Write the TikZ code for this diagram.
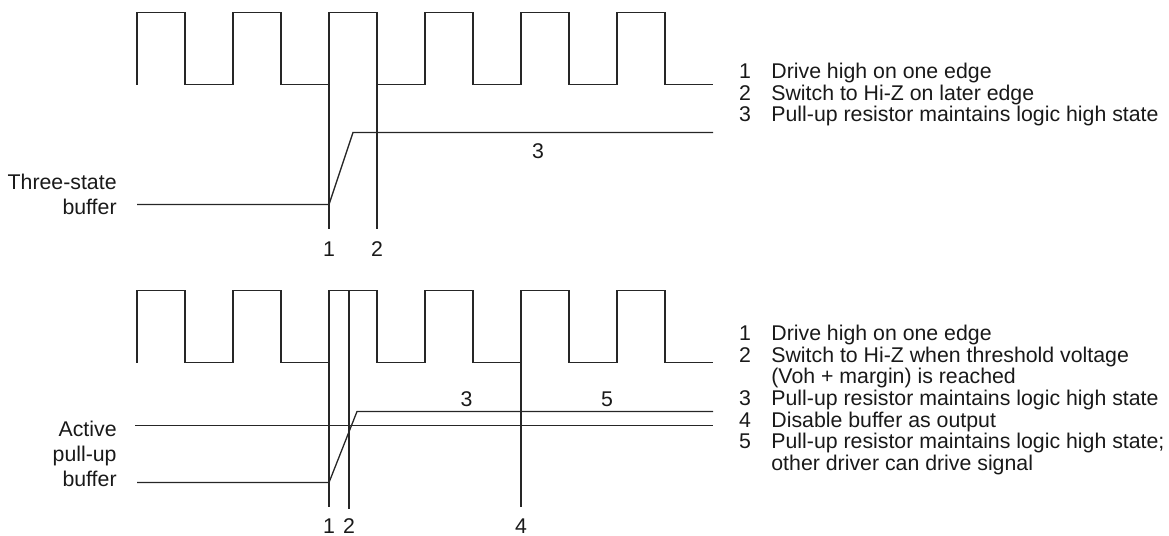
\documentclass[tikz,border=0pt]{standalone}
\usepackage{fontspec}
\setmainfont{Liberation Sans}
\usepackage{xcolor}
\usepackage{tikz}
\usetikzlibrary{positioning}
\tikzset{
  wave/.style={line width=0.65pt,draw=black!85},
  lbl/.style={inner sep=0pt,text=black!90,font=\fontsize{10.65}{11}\selectfont},
  num/.style={lbl,anchor=base},
  leftlbl/.style={lbl,anchor=base east},
  legtxt/.style={lbl,anchor=base west}
}
\begin{document}
\begin{tikzpicture}[x=0.5pt,y=-0.5pt]
\useasboundingbox (0,0) rectangle (1169,536);
% three-state buffer
\draw[wave](137,84.5)\foreach \i in {1,...,6}{--++(0,-72)--++(48,0)--++(0,72)--++(48,0)};
\draw[wave](137,204.5)--(329,204.5)--(353,132.5)--(713,132.5);
\draw[wave](329,12.5)--(329,228.5);
\draw[wave](377,12.5)--(377,228.5);
\node[num](ta) at (329,256.5){1};
\node[num](tb) at (377,256.5){2};
\node[num](tc) at (538,158.5){3};
\node[leftlbl](tl1) at (117,189){Three-state};
\node[leftlbl](tl2) at (117,214){buffer};
\foreach \d/\t [count=\k from 0] in {1/Drive high on one edge,2/Switch to Hi-Z on later edge,3/Pull-up resistor maintains logic high state}{
  \node[num](tn\k) at (745,78.5+21.5*\k){\d};
  \node[legtxt](tt\k) at (771,78.5+21.5*\k){\t};
}
% active pull-up buffer
\draw[wave](137,362.7)\foreach \i in {1,...,6}{--++(0,-72)--++(48,0)--++(0,72)--++(48,0)};
\draw[wave](135,425.7)--(713,425.7);
\draw[wave](137,482.5)--(329,482.5)--(357,411.5)--(713,411.5);
\draw[wave](329,290.7)--(329,506.7);
\draw[wave](349,290.7)--(349,509);
\draw[wave](521,290.7)--(521,506.7);
\node[num](ba) at (329,533){1};
\node[num](bb) at (349,533){2};
\node[num](bd) at (521,533){4};
\node[num](bc) at (466.5,406.5){3};
\node[num](be) at (607,406.5){5};
\node[leftlbl](bl1) at (117,436.6){Active};
\node[leftlbl](bl2) at (117,461.6){pull-up};
\node[leftlbl](bl3) at (117,486.6){buffer};
\foreach \d/\t [count=\k from 0] in {1/Drive high on one edge,2/Switch to Hi-Z when threshold voltage,/(Voh + margin) is reached,3/Pull-up resistor maintains logic high state,4/Disable buffer as output,5/Pull-up resistor maintains logic high state;,/other driver can drive signal}{
  \node[num](bn\k) at (745,340.6+21.6*\k){\d};
  \node[legtxt](bt\k) at (771,340.6+21.6*\k){\t};
}
\end{tikzpicture}
\end{document}
